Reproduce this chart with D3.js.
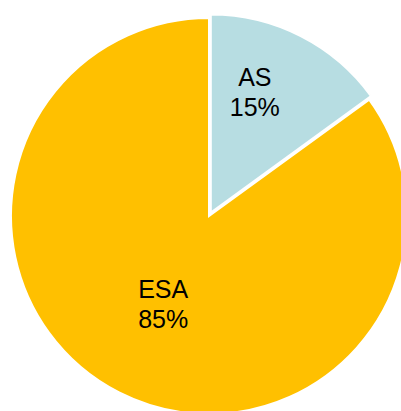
<!DOCTYPE html>
<html><head><meta charset="utf-8">
<script src="https://cdn.jsdelivr.net/npm/d3@7"></script>
<style>html,body{margin:0;padding:0;background:#fff;overflow:hidden}</style>
</head><body>
<svg id="c" width="401" height="411"></svg>
<script>
const categories = ["AS", "ESA"];
const values = [15, 85];
const colors = ["#B7DDE2", "#FFC000"];

const svg = d3.select("#c");
const cx = 209, cy = 216, r = 198;
const explode = [4, 0];
// label placement (radius fraction, angle nudge in radians) per slice index
const labelLayout = [{f: 0.655, da: -0.11}, {f: 0.51, da: 0}];

const pie = d3.pie().sort(null).value(d => d)(values);
const arc = d3.arc().innerRadius(0).outerRadius(r);
const g = svg.append("g").attr("transform", `translate(${cx},${cy})`);

pie.forEach((p, i) => {
  const mid = (p.startAngle + p.endAngle) / 2;
  const ox = explode[i] * Math.sin(mid), oy = -explode[i] * Math.cos(mid);
  const sg = g.append("g").attr("transform", `translate(${ox},${oy})`);
  sg.append("path").attr("d", arc(p)).attr("fill", colors[i])
    .attr("stroke", "#fff").attr("stroke-width", 2).attr("stroke-linejoin", "miter");
});

pie.forEach((p, i) => {
  const mid = (p.startAngle + p.endAngle) / 2 + labelLayout[i].da;
  const lr = r * labelLayout[i].f;
  const lx = lr * Math.sin(mid), ly = -lr * Math.cos(mid);
  const pct = Math.round(100 * p.value / d3.sum(values)) + "%";
  const t = g.append("text").attr("x", lx).attr("y", ly)
    .attr("text-anchor", "middle")
    .attr("font-family", "Liberation Sans, Arial, sans-serif")
    .attr("font-size", 25).attr("fill", "#000");
  t.append("tspan").attr("x", lx).attr("dy", "-0.33em").text(categories[i]);
  t.append("tspan").attr("x", lx).attr("dy", "1.2em").text(pct);
});
</script>
</body></html>
